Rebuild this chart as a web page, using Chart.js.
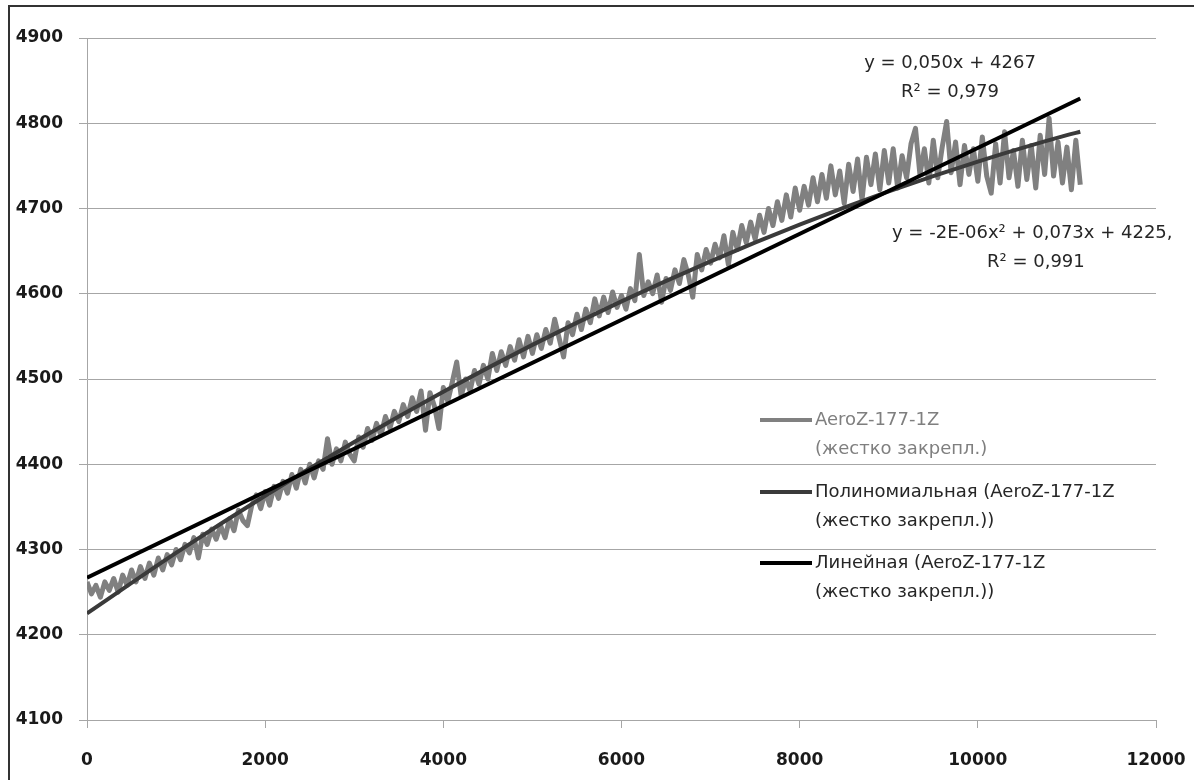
<!DOCTYPE html>
<html lang="ru">
<head>
<meta charset="utf-8">
<title>AeroZ-177-1Z</title>
<script src="https://cdn.jsdelivr.net/npm/chart.js@4.4.1/dist/chart.umd.min.js"></script>
<style>
  html, body { margin: 0; padding: 0; background: #fff; overflow: hidden; }
  #wrap { position: relative; width: 1194px; height: 780px; overflow: hidden; }
  #frame { position: absolute; left: 8px; top: 5px; width: 1300px; height: 900px;
           border-left: 2px solid #333; border-top: 2px solid #333; }
  #chart { position: absolute; left: 0; top: 0; }
</style>
</head>
<body>
<div id="wrap">
  <div id="frame"></div>
  <canvas id="chart" width="1194" height="780"></canvas>
</div>
<script>
// Measured series, one reading every xStep units starting at 0
const xStep = 50;
const measured = [
  4262, 4248, 4258, 4244, 4262, 4252, 4266, 4250, 4270, 4258,
  4276, 4262, 4280, 4266, 4284, 4270, 4290, 4276, 4294, 4282,
  4300, 4288, 4306, 4296, 4314, 4290, 4318, 4306, 4324, 4312,
  4328, 4314, 4336, 4322, 4346, 4334, 4328, 4352, 4364, 4348,
  4368, 4352, 4374, 4360, 4380, 4366, 4388, 4372, 4394, 4378,
  4400, 4384, 4404, 4394, 4430, 4400, 4418, 4404, 4426, 4412,
  4404, 4432, 4420, 4442, 4428, 4448, 4434, 4456, 4442, 4462,
  4450, 4470, 4456, 4478, 4462, 4486, 4440, 4484, 4468, 4442,
  4490, 4474, 4496, 4520, 4480, 4500, 4486, 4510, 4494, 4516,
  4500, 4530, 4510, 4532, 4516, 4538, 4522, 4546, 4526, 4550,
  4530, 4552, 4536, 4558, 4542, 4570, 4548, 4526, 4566, 4552,
  4576, 4558, 4582, 4566, 4594, 4574, 4596, 4578, 4602, 4584,
  4598, 4582, 4606, 4592, 4646, 4598, 4614, 4600, 4622, 4590,
  4618, 4604, 4628, 4612, 4640, 4622, 4596, 4646, 4628, 4652,
  4636, 4658, 4642, 4668, 4634, 4672, 4652, 4680, 4660, 4684,
  4664, 4692, 4672, 4700, 4680, 4708, 4686, 4716, 4690, 4724,
  4698, 4726, 4704, 4736, 4708, 4740, 4712, 4750, 4716, 4744,
  4706, 4752, 4720, 4758, 4710, 4760, 4728, 4764, 4722, 4768,
  4730, 4770, 4724, 4762, 4736, 4776, 4794, 4740, 4770, 4730,
  4780, 4736, 4772, 4802, 4742, 4778, 4728, 4774, 4740, 4770,
  4732, 4784, 4738, 4718, 4776, 4730, 4790, 4736, 4768, 4726,
  4780, 4734, 4774, 4724, 4786, 4740, 4806, 4738, 4778, 4730,
  4772, 4722, 4780, 4728
];

// Trendlines
const polyX = [0, 1000, 2000, 3000, 4000, 5000, 6000, 7000, 8000, 9000, 10000, 11000, 11150];
const polyY = [4225, 4296, 4363, 4426, 4485, 4540, 4591, 4638, 4681, 4720, 4755, 4786, 4790];
const linX = [0, 11150];
const linY = [4267, 4829];

// Axes
const xMin = 0, xMax = 12000, xStepTick = 2000;
const yMin = 4100, yMax = 4900, yStepTick = 100;

const legendItems = [
  { lines: ['AeroZ-177-1Z', '(жестко закрепл.)'], color: '#808080', text: '#7f7f7f' },
  { lines: ['Полиномиальная (AeroZ-177-1Z', '(жестко закрепл.))'], color: '#3a3a3a', text: '#262626' },
  { lines: ['Линейная (AeroZ-177-1Z', '(жестко закрепл.))'], color: '#000000', text: '#262626' }
];
const linEquation = ['y = 0,050x + 4267', 'R² = 0,979'];
const polyEquation = ['y = -2E-06x² + 0,073x + 4225,', 'R² = 0,991'];

const textFont = '18px "DejaVu Sans"';

const toPoints = (xs, ys) => xs.map((x, i) => ({ x, y: ys[i] }));

// Legend block and trendline equations, drawn inside the plot area
const annotations = {
  id: 'annotations',
  afterDraw(chart) {
    const { ctx } = chart;
    ctx.save();
    ctx.font = textFont;
    ctx.textBaseline = 'middle';

    const legendRows = [[420, 449], [492, 521], [563, 592]];
    legendItems.forEach((item, i) => {
      const [y1, y2] = legendRows[i];
      ctx.strokeStyle = item.color;
      ctx.lineWidth = 4;
      ctx.lineCap = 'butt';
      ctx.beginPath();
      ctx.moveTo(760, y1);
      ctx.lineTo(812, y1);
      ctx.stroke();
      ctx.fillStyle = item.text;
      ctx.textAlign = 'left';
      ctx.fillText(item.lines[0], 815, y1);
      ctx.fillText(item.lines[1], 815, y2);
    });

    ctx.fillStyle = '#262626';
    ctx.textAlign = 'center';
    ctx.fillText(linEquation[0], 950, 63);
    ctx.fillText(linEquation[1], 950, 92);
    ctx.textAlign = 'left';
    ctx.fillText(polyEquation[0], 892, 233);
    ctx.fillText(polyEquation[1], 987, 262);
    ctx.restore();
  }
};

const gridGrey = '#a6a6a6';
const tickFont = { family: '"DejaVu Sans"', size: 17, weight: 'bold' };

new Chart(document.getElementById('chart'), {
  type: 'line',
  data: {
    datasets: [
      {
        label: 'Линейная (AeroZ-177-1Z (жестко закрепл.))',
        data: toPoints(linX, linY),
        borderColor: '#000',
        borderWidth: 4,
        pointRadius: 0,
        order: 0
      },
      {
        label: 'Полиномиальная (AeroZ-177-1Z (жестко закрепл.))',
        data: toPoints(polyX, polyY),
        borderColor: '#3a3a3a',
        borderWidth: 4,
        pointRadius: 0,
        cubicInterpolationMode: 'monotone',
        order: 1
      },
      {
        label: 'AeroZ-177-1Z (жестко закрепл.)',
        data: measured.map((v, i) => ({ x: i * xStep, y: v })),
        borderColor: '#808080',
        borderWidth: 5,
        borderJoinStyle: 'round',
        pointRadius: 0,
        tension: 0,
        order: 2
      }
    ]
  },
  options: {
    responsive: false,
    animation: false,
    devicePixelRatio: 1,
    layout: { padding: { top: 38, right: 38, left: 0, bottom: 0 } },
    plugins: {
      legend: { display: false },
      tooltip: { enabled: false }
    },
    scales: {
      x: {
        type: 'linear',
        min: xMin,
        max: xMax,
        // fixed band height; end labels may overhang the plot edges
        afterFit: s => { s.height = 60; s.paddingLeft = 0; s.paddingRight = 0; },
        grid: { display: true, drawOnChartArea: false, drawTicks: true, tickLength: 8, tickColor: gridGrey },
        border: { color: gridGrey, width: 1 },
        ticks: { stepSize: xStepTick, color: '#1a1a1a', font: tickFont, padding: 22, maxRotation: 0,
                 callback: v => String(v) }
      },
      y: {
        type: 'linear',
        min: yMin,
        max: yMax,
        afterFit: s => { s.width = 87; },
        grid: { color: gridGrey, lineWidth: 1, tickLength: 8, tickColor: gridGrey },
        border: { color: gridGrey, width: 1 },
        ticks: { stepSize: yStepTick, color: '#1a1a1a', font: tickFont, padding: 16,
                 callback: v => String(v) }
      }
    }
  },
  plugins: [annotations]
});
</script>
</body>
</html>
